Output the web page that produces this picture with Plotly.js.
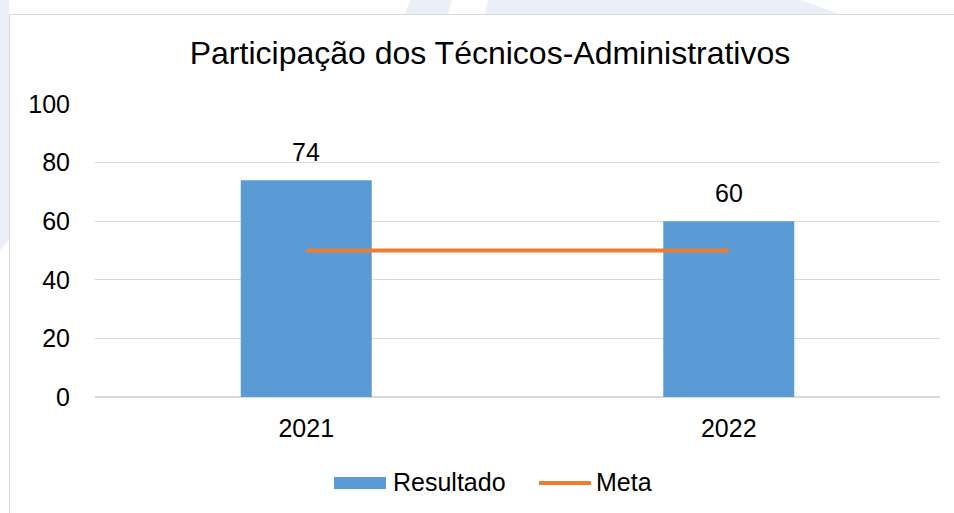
<!DOCTYPE html>
<html>
<head>
<meta charset="utf-8">
<script src="https://cdn.plot.ly/plotly-3.0.1.min.js"></script>
<style>html,body{margin:0;padding:0;background:#fff;}#chart{width:954px;height:513px;}</style>
</head>
<body>
<div id="chart"></div>
<script>
const categories = ['2021', '2022'];
const resultado = [74, 60];
const meta = [50, 50];
const yTicks = [0, 20, 40, 60, 80, 100];

const FONT = 'Liberation Sans, Arial, sans-serif';
const BLUE = '#5B9BD5';
const ORANGE = '#ED7D31';
const WM = '#EBF0F8';

// plot area: x 95..940, y 104..397
const L = 95, R = 940, T = 104, B = 397;
const px = v => (v - L) / (R - L);
const py = v => (B - v) / (B - T);

const traces = [
  {
    type: 'bar', name: 'Resultado', x: categories, y: resultado,
    marker: {color: BLUE}, showlegend: false, hoverinfo: 'x+y'
  },
  {
    type: 'scatter', mode: 'lines', name: 'Meta', x: categories, y: meta,
    line: {color: ORANGE, width: 4}, showlegend: false
  }
];

const shapes = [
  // faint background watermark outside chart box
  {type: 'path', xref: 'paper', yref: 'paper', layer: 'below',
   path: `M ${px(0)} ${py(0)} L ${px(9)} ${py(0)} L ${px(9)} ${py(240)} L ${px(0)} ${py(250)} Z`,
   fillcolor: WM, line: {width: 0}},
  {type: 'path', xref: 'paper', yref: 'paper', layer: 'below',
   path: `M ${px(410)} ${py(0)} L ${px(452)} ${py(0)} L ${px(448)} ${py(14)} L ${px(405)} ${py(14)} Z`,
   fillcolor: WM, line: {width: 0}},
  {type: 'path', xref: 'paper', yref: 'paper', layer: 'below',
   path: `M ${px(488)} ${py(0)} L ${px(800)} ${py(0)} L ${px(840)} ${py(14)} L ${px(485)} ${py(14)} Z`,
   fillcolor: WM, line: {width: 0}},
  // chart box
  {type: 'rect', xref: 'paper', yref: 'paper', layer: 'below',
   x0: px(9.5), x1: px(960), y0: py(520), y1: py(14.5),
   fillcolor: '#ffffff', line: {color: '#D9D9D9', width: 1}},
  // legend swatches
  {type: 'rect', xref: 'paper', yref: 'paper',
   x0: px(334), x1: px(386), y0: py(489), y1: py(477),
   fillcolor: BLUE, line: {width: 0}},
  {type: 'line', xref: 'paper', yref: 'paper',
   x0: px(539), x1: px(591), y0: py(483), y1: py(483),
   line: {color: ORANGE, width: 4}}
];

// data labels placed via the category axis (index) and value axis
const labelAnn = resultado.map((v, i) => ({
  xref: 'x', yref: 'y', x: i, y: v, xanchor: 'center', yanchor: 'bottom',
  yshift: 12, text: String(v), showarrow: false,
  font: {family: FONT, size: 25, color: '#000'}
}));

const annotations = labelAnn.concat([
  {xref: 'paper', yref: 'paper', x: px(391), y: py(482), xanchor: 'left', yanchor: 'middle',
   text: 'Resultado', showarrow: false, font: {family: FONT, size: 25, color: '#000'}},
  {xref: 'paper', yref: 'paper', x: px(594), y: py(482), xanchor: 'left', yanchor: 'middle',
   text: 'Meta', showarrow: false, font: {family: FONT, size: 25, color: '#000'}}
]);

const layout = {
  width: 954, height: 513,
  paper_bgcolor: '#ffffff', plot_bgcolor: 'rgba(0,0,0,0)',
  margin: {l: L, r: 954 - R, t: T, b: 513 - B, pad: 0},
  font: {family: FONT, color: '#000'},
  title: {text: 'Participação dos Técnicos-Administrativos',
          font: {family: FONT, size: 32, color: '#000'},
          x: 490 / 954, xref: 'container', xanchor: 'center',
          y: 1 - 53 / 513, yref: 'container', yanchor: 'middle'},
  bargap: 0.69,
  showlegend: false,
  xaxis: {type: 'category', range: [-0.5, 1.5], showgrid: false, zeroline: false, showline: false,
          ticks: '', ticklabelstandoff: 14,
          tickfont: {family: FONT, size: 25, color: '#000'}},
  yaxis: {range: [0, 100], tickvals: yTicks, ticktext: yTicks.map(String),
          showgrid: true, gridcolor: '#D9D9D9', gridwidth: 1.3,
          zeroline: true, zerolinecolor: '#D9D9D9', zerolinewidth: 1.5,
          showline: false, ticks: '', ticklabelstandoff: 24,
          tickfont: {family: FONT, size: 25, color: '#000'}},
  shapes: shapes,
  annotations: annotations
};

Plotly.newPlot('chart', traces, layout, {displayModeBar: false, staticPlot: true});
</script>
</body>
</html>
